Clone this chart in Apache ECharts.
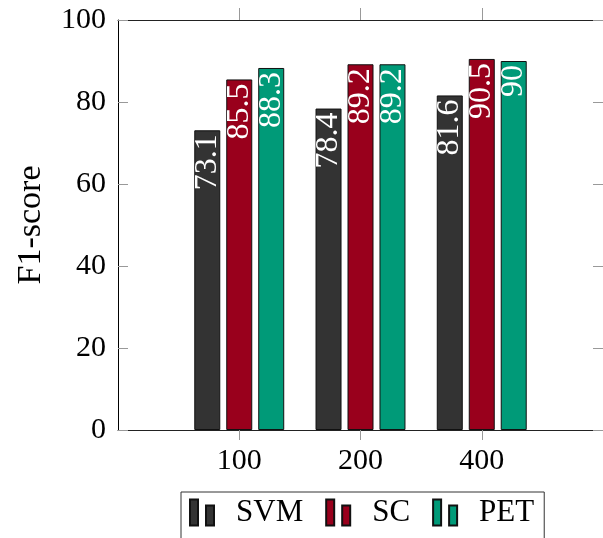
<!DOCTYPE html>
<html>
<head>
<meta charset="utf-8">
<script src="https://cdn.jsdelivr.net/npm/echarts@6/dist/echarts.min.js"></script>
<style>html,body{margin:0;padding:0;background:#fff;}#c{width:603px;height:538px;}</style>
</head>
<body>
<div id="c"></div>
<script>
const categories = ['100', '200', '400'];
const svm = [73.1, 78.4, 81.6];
const sc = [85.5, 89.2, 90.5];
const pet = [88.3, 89.2, 90];
const yTicks = [0, 20, 40, 60, 80, 100];

const FONT = 'Liberation Serif';
const chart = echarts.init(document.getElementById('c'), null, {renderer: 'canvas'});
const pos = categories.map((c, i) => i);
const toData = arr => arr.map((v, i) => [pos[i], v]);
const labelOpt = {
  show: true, position: 'insideTop', rotate: 90, align: 'right', verticalAlign: 'middle',
  distance: 4, color: '#fff', fontFamily: FONT, fontSize: 32,
  formatter: p => String(p.value[1])
};
const icon = 'path://M0,0H8V26H0Z M16,6H24V26H16Z';
const mkSeries = (name, arr, color) => ({
  name, type: 'bar', data: toData(arr), barWidth: 26, barGap: '23%',
  itemStyle: {color, borderColor: '#111', borderWidth: 1},
  label: labelOpt
});
const xCommon = {
  type: 'value', min: -1, max: 3, interval: 1,
  splitLine: {show: false},
  axisLine: {show: true, onZero: false, lineStyle: {color: '#222', width: 1}}
};
chart.setOption({
  animation: false,
  backgroundColor: '#fff',
  grid: {left: 118, top: 20, width: 493, height: 410, containLabel: false},
  legend: {
    left: 181, top: 492, orient: 'horizontal',
    padding: [5, 10, 20, 8],
    borderColor: '#333', borderWidth: 1,
    itemWidth: 24, itemHeight: 27, itemGap: 22,
    textStyle: {fontFamily: FONT, fontSize: 31, color: '#000', padding: [6, 0, 0, 17]},
    data: [{name: 'SVM', icon}, {name: 'SC', icon}, {name: 'PET', icon}]
  },
  xAxis: [
    Object.assign({}, xCommon, {
      position: 'bottom',
      axisTick: {show: true, inside: false, length: 10, customValues: pos, lineStyle: {color: '#999'}},
      axisLabel: {show: true, customValues: pos, margin: 16, fontFamily: FONT, fontSize: 30, color: '#000',
        formatter: v => categories[Math.round(v)] ?? ''}
    }),
    Object.assign({}, xCommon, {
      position: 'top',
      axisTick: {show: true, inside: false, length: 12, customValues: pos, lineStyle: {color: '#999'}},
      axisLabel: {show: false}
    })
  ],
  yAxis: [
    {
      type: 'value', min: yTicks[0], max: yTicks[yTicks.length - 1], interval: 20, position: 'left',
      name: 'F1-score', nameLocation: 'middle', nameGap: 70, nameRotate: 90,
      nameTextStyle: {fontFamily: FONT, fontSize: 34, color: '#000'},
      splitLine: {show: false},
      axisLine: {show: true, onZero: false, lineStyle: {color: '#000', width: 1}},
      axisTick: {show: true, inside: true, length: 10, lineStyle: {color: '#999'}},
      axisLabel: {margin: 12, fontFamily: FONT, fontSize: 30, color: '#000'}
    },
    {
      type: 'value', min: yTicks[0], max: yTicks[yTicks.length - 1], interval: 20, position: 'right',
      splitLine: {show: false},
      axisLine: {show: true, onZero: false, lineStyle: {color: '#000', width: 1}},
      axisTick: {show: true, inside: true, length: 10, lineStyle: {color: '#999'}},
      axisLabel: {show: false}
    }
  ],
  series: [
    mkSeries('SVM', svm, '#333333'),
    mkSeries('SC', sc, '#99001c'),
    mkSeries('PET', pet, '#009a78')
  ]
});
</script>
</body>
</html>
